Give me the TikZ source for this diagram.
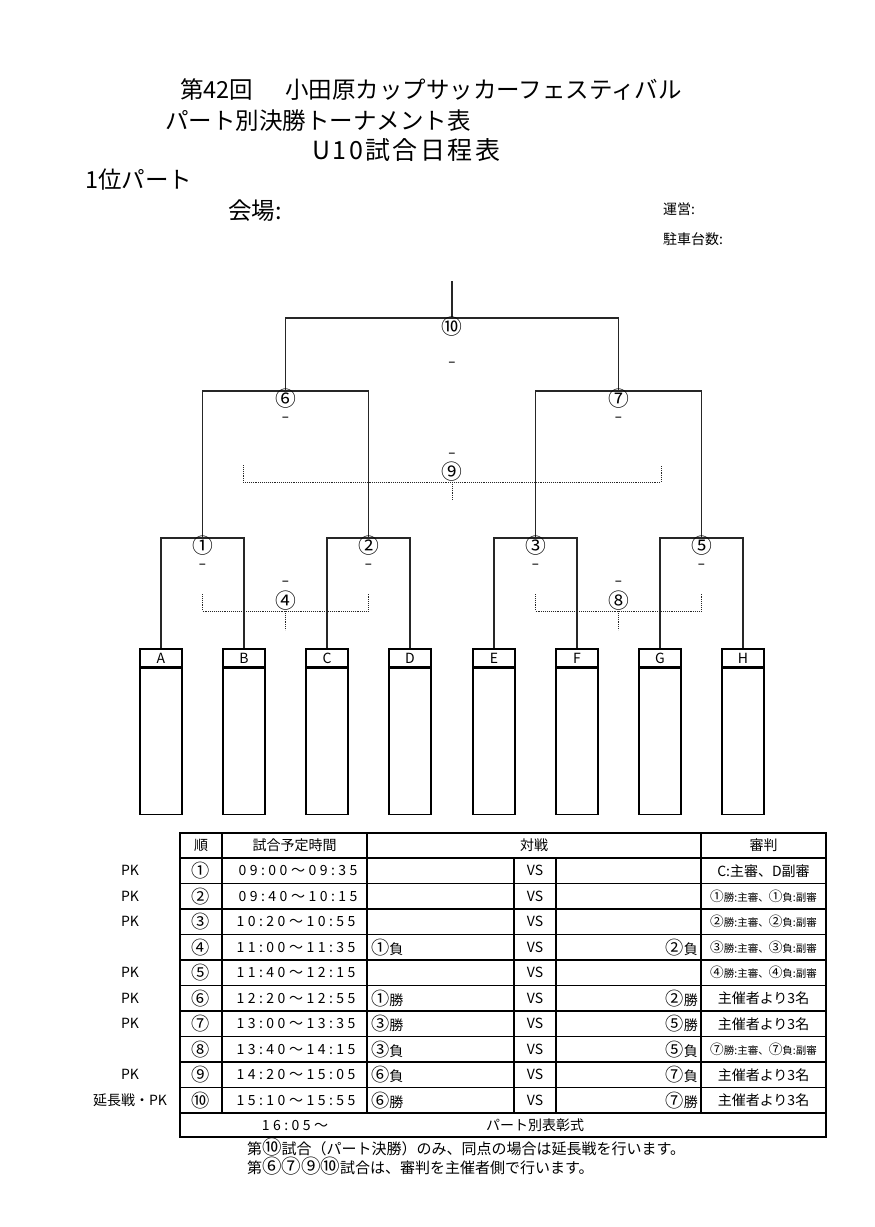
\documentclass[tikz,border=0pt]{standalone}
\usepackage{fontspec}
\setmainfont{Noto Sans CJK JP}
\newfontfamily\timefont[LetterSpace=25]{Noto Sans CJK JP}
\newfontfamily\widefont[LetterSpace=10]{Noto Sans CJK JP}
\newfontfamily\circfont[Scale=1.3]{Noto Sans CJK JP}
\newcommand\cnum[1]{{\circfont #1}}
\usetikzlibrary{positioning}

\begin{document}
\begin{tikzpicture}[x=1pt, y=-1pt,
  line/.style={line width=1.4pt, black!85},
  consol/.style={line width=0.9pt, densely dotted, black!85},
  team/.style={draw, line width=1.3pt, minimum width=42pt, minimum height=18pt, inner sep=0pt, font=\fontsize{14}{14}\selectfont},
  slot/.style={draw, line width=1.3pt, minimum width=42pt, minimum height=146pt, inner sep=0pt, anchor=north},
  matchno/.style={inner sep=0pt, text height=16pt, text depth=1.5pt, font=\fontsize{16}{16}\circfont},
  bar/.style={inner sep=0pt, text height=4pt, text depth=0pt, black!70, font=\fontsize{13}{13}\bfseries},
  cell/.style={inner sep=0pt, font=\fontsize{14}{14}\selectfont},
  timecell/.style={inner sep=0pt, font=\fontsize{14}{14}\timefont},
  refsmall/.style={inner sep=0pt, font=\fontsize{10.5}{10.5}\selectfont},
  heading/.style={inner sep=0pt, anchor=west, font=\fontsize{23.5}{23.5}\selectfont}
]
  \useasboundingbox (0,0) rectangle (875,1227);

  % Titles
  \node[heading] (title1) at (180,90) {第42回\hspace{32pt}小田原カップサッカーフェスティバル};
  \node[heading] (title2) at (165,121) {パート別決勝トーナメント表};
  \node[heading, font=\fontsize{25}{25}\widefont] (title3) at (312,150) {U10試合日程表};
  \node[heading] (part) at (85,180) {1位パート};
  \node[heading] (venue) at (228,211) {会場:};
  \node[inner sep=0pt, anchor=west, font=\fontsize{14}{14}\selectfont] (staff) at (663,209) {運営:};
  \node[inner sep=0pt, anchor=west, font=\fontsize{14}{14}\selectfont] (parking) at (663,239) {駐車台数:};

  % Teams
  \node[team] (A) at (161,658) {A};
  \node[team] (B) at (244,658) {B};
  \node[team] (C) at (327,658) {C};
  \node[team] (D) at (410,658) {D};
  \node[team] (E) at (494,658) {E};
  \node[team] (F) at (577,658) {F};
  \node[team] (G) at (660,658) {G};
  \node[team] (H) at (743,658) {H};
  \node[slot] (Aslot) at (A.south) {};
  \node[slot] (Bslot) at (B.south) {};
  \node[slot] (Cslot) at (C.south) {};
  \node[slot] (Dslot) at (D.south) {};
  \node[slot] (Eslot) at (E.south) {};
  \node[slot] (Fslot) at (F.south) {};
  \node[slot] (Gslot) at (G.south) {};
  \node[slot] (Hslot) at (H.south) {};

  % Junctions
  \coordinate (j1) at (202.5,538);
  \coordinate (j2) at (368.5,538);
  \coordinate (j3) at (535.5,538);
  \coordinate (j5) at (701.5,538);
  \coordinate (j6) at (285.5,391);
  \coordinate (j7) at (618.5,391);
  \coordinate (j10) at (452,318);
  \coordinate (top) at (452,281);

  % Bracket
  \draw[line] (A.north) |- (j1) -| (B.north);
  \draw[line] (C.north) |- (j2) -| (D.north);
  \draw[line] (E.north) |- (j3) -| (F.north);
  \draw[line] (G.north) |- (j5) -| (H.north);
  \draw[line] (j1) |- (j6) -| (j2);
  \draw[line] (j3) |- (j7) -| (j5);
  \draw[line] (j6) |- (j10) -| (j7);
  \draw[line] (j10) -- (top);

  % Match numbers
  \node[matchno] (m1) at (202.5,546) {①};
  \node[bar] (s1) at (202.5,566) {–};
  \node[matchno] (m2) at (368.5,546) {②};
  \node[bar] (s2) at (368.5,566) {–};
  \node[matchno] (m3) at (535.5,546) {③};
  \node[bar] (s3) at (535.5,566) {–};
  \node[matchno] (m5) at (701.5,546) {⑤};
  \node[bar] (s5) at (701.5,566) {–};
  \node[matchno] (m6) at (285.5,399) {⑥};
  \node[bar] (s6) at (285.5,419) {–};
  \node[matchno] (m7) at (618.5,399) {⑦};
  \node[bar] (s7) at (618.5,419) {–};
  \node[matchno] (m10) at (452,327) {⑩};
  \node[bar] (s10) at (452,364) {–};

  % Losers' matches
  \coordinate (c4l) at (202.5,594);
  \coordinate (c4r) at (368.5,594);
  \coordinate (c4) at (285.5,611);
  \coordinate (c4end) at (285.5,630);
  \coordinate (c8l) at (535.5,594);
  \coordinate (c8r) at (701.5,594);
  \coordinate (c8) at (618.5,611);
  \coordinate (c8end) at (618.5,630);
  \coordinate (c9l) at (243,465);
  \coordinate (c9r) at (661,465);
  \coordinate (c9) at (452,482);
  \coordinate (c9end) at (452,500);
  \draw[consol] (c4l) |- (c4) -| (c4r);
  \draw[consol] (c4) -- (c4end);
  \draw[consol] (c8l) |- (c8) -| (c8r);
  \draw[consol] (c8) -- (c8end);
  \draw[consol] (c9l) |- (c9) -| (c9r);
  \draw[consol] (c9) -- (c9end);
  \node[bar] (s4) at (285.5,583) {–};
  \node[matchno] (m4) at (285.5,601) {④};
  \node[bar] (s8) at (618.5,583) {–};
  \node[matchno] (m8) at (618.5,601) {⑧};
  \node[bar] (s9) at (452,455) {–};
  \node[matchno] (m9) at (452,472) {⑨};

  % Schedule table
  \draw[line width=2.5pt] (180,833) rectangle (826,1137);
  \draw[line width=2pt] (180,858) -- (826,858);
  \draw[line width=1.2pt] (180,883.5) -- (826,883.5);
  \draw[line width=1.2pt] (180,909) -- (826,909);
  \draw[line width=1.2pt] (180,934.5) -- (826,934.5);
  \draw[line width=1.2pt] (180,960) -- (826,960);
  \draw[line width=1.2pt] (180,985.5) -- (826,985.5);
  \draw[line width=1.2pt] (180,1011) -- (826,1011);
  \draw[line width=1.2pt] (180,1036.5) -- (826,1036.5);
  \draw[line width=1.2pt] (180,1062) -- (826,1062);
  \draw[line width=1.2pt] (180,1087.5) -- (826,1087.5);
  \draw[line width=2.5pt] (180,1113) -- (826,1113);
  \draw[line width=1.2pt] (222,833) -- (222,1113);
  \draw[line width=1.2pt] (367,833) -- (367,1113);
  \draw[line width=1.2pt] (514,858) -- (514,1113);
  \draw[line width=1.2pt] (556,858) -- (556,1113);
  \draw[line width=1.2pt] (701,833) -- (701,1113);

  % Header
  \node[cell] (hno) at (201,845.5) {順};
  \node[cell] (htime) at (294.5,845.5) {試合予定時間};
  \node[cell] (hmatch) at (534,845.5) {対戦};
  \node[cell] (href) at (763.5,845.5) {審判};

  % Rows
  \node[cell] (pk1) at (130,870.75) {PK};
  \node[cell] (n1) at (201,870.75) {\cnum{①}};
  \node[timecell] (t1) at (298,870.75) {09:00～09:35};
  \node[cell] (v1) at (535,870.75) {VS};
  \node[cell] (ref1) at (763.5,870.75) {C:主審、D副審};

  \node[cell] (pk2) at (130,896.25) {PK};
  \node[cell] (n2) at (201,896.25) {\cnum{②}};
  \node[timecell] (t2) at (298,896.25) {09:40～10:15};
  \node[cell] (v2) at (535,896.25) {VS};
  \node[refsmall] (ref2) at (763.5,896.25) {\cnum{①}勝:主審、\cnum{①}負:副審};

  \node[cell] (pk3) at (130,921.75) {PK};
  \node[cell] (n3) at (201,921.75) {\cnum{③}};
  \node[timecell] (t3) at (296,921.75) {10:20～10:55};
  \node[cell] (v3) at (535,921.75) {VS};
  \node[refsmall] (ref3) at (763.5,921.75) {\cnum{②}勝:主審、\cnum{②}負:副審};

  \node[cell] (n4) at (201,947.25) {\cnum{④}};
  \node[timecell] (t4) at (296,947.25) {11:00～11:35};
  \node[cell, anchor=west] (l4) at (371,947.25) {\cnum{①}負};
  \node[cell] (v4) at (535,947.25) {VS};
  \node[cell, anchor=east] (r4) at (698,947.25) {\cnum{②}負};
  \node[refsmall] (ref4) at (763.5,947.25) {\cnum{③}勝:主審、\cnum{③}負:副審};

  \node[cell] (pk5) at (130,972.75) {PK};
  \node[cell] (n5) at (201,972.75) {\cnum{⑤}};
  \node[timecell] (t5) at (296,972.75) {11:40～12:15};
  \node[cell] (v5) at (535,972.75) {VS};
  \node[refsmall] (ref5) at (763.5,972.75) {\cnum{④}勝:主審、\cnum{④}負:副審};

  \node[cell] (pk6) at (130,998.25) {PK};
  \node[cell] (n6) at (201,998.25) {\cnum{⑥}};
  \node[timecell] (t6) at (296,998.25) {12:20～12:55};
  \node[cell, anchor=west] (l6) at (371,998.25) {\cnum{①}勝};
  \node[cell] (v6) at (535,998.25) {VS};
  \node[cell, anchor=east] (r6) at (698,998.25) {\cnum{②}勝};
  \node[cell] (ref6) at (763.5,998.25) {主催者より3名};

  \node[cell] (pk7) at (130,1023.75) {PK};
  \node[cell] (n7) at (201,1023.75) {\cnum{⑦}};
  \node[timecell] (t7) at (296,1023.75) {13:00～13:35};
  \node[cell, anchor=west] (l7) at (371,1023.75) {\cnum{③}勝};
  \node[cell] (v7) at (535,1023.75) {VS};
  \node[cell, anchor=east] (r7) at (698,1023.75) {\cnum{⑤}勝};
  \node[cell] (ref7) at (763.5,1023.75) {主催者より3名};

  \node[cell] (n8) at (201,1049.25) {\cnum{⑧}};
  \node[timecell] (t8) at (296,1049.25) {13:40～14:15};
  \node[cell, anchor=west] (l8) at (371,1049.25) {\cnum{③}負};
  \node[cell] (v8) at (535,1049.25) {VS};
  \node[cell, anchor=east] (r8) at (698,1049.25) {\cnum{⑤}負};
  \node[refsmall] (ref8) at (763.5,1049.25) {\cnum{⑦}勝:主審、\cnum{⑦}負:副審};

  \node[cell] (pk9) at (130,1074.75) {PK};
  \node[cell] (n9) at (201,1074.75) {\cnum{⑨}};
  \node[timecell] (t9) at (296,1074.75) {14:20～15:05};
  \node[cell, anchor=west] (l9) at (371,1074.75) {\cnum{⑥}負};
  \node[cell] (v9) at (535,1074.75) {VS};
  \node[cell, anchor=east] (r9) at (698,1074.75) {\cnum{⑦}負};
  \node[cell] (ref9) at (763.5,1074.75) {主催者より3名};

  \node[cell] (pk10) at (130,1100.25) {延長戦・PK};
  \node[cell] (n10) at (201,1100.25) {\cnum{⑩}};
  \node[timecell] (t10) at (296,1100.25) {15:10～15:55};
  \node[cell, anchor=west] (l10) at (371,1100.25) {\cnum{⑥}勝};
  \node[cell] (v10) at (535,1100.25) {VS};
  \node[cell, anchor=east] (r10) at (698,1100.25) {\cnum{⑦}勝};
  \node[cell] (ref10) at (763.5,1100.25) {主催者より3名};

  \node[timecell] (award) at (295,1125) {16:05～};
  \node[cell] (awardname) at (535,1125) {パート別表彰式};

  % Notes
  \node[cell, anchor=west, font=\fontsize{15}{15}\selectfont] (note1) at (247,1147) {第\cnum{⑩}試合（パート決勝）のみ、同点の場合は延長戦を行います。};
  \node[cell, anchor=west, font=\fontsize{15}{15}\selectfont] (note2) at (247,1166) {第\cnum{⑥⑦⑨⑩}試合は、審判を主催者側で行います。};
\end{tikzpicture}
\end{document}
